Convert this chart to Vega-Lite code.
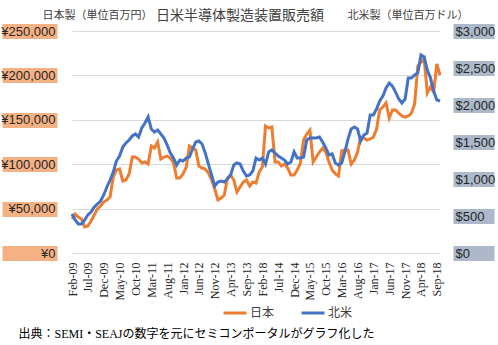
{
  "$schema": "https://vega.github.io/schema/vega-lite/v6.json",
  "width": 368,
  "height": 222,
  "autosize": {"type": "none"},
  "padding": {"left": 72, "top": 31, "right": 58, "bottom": 92},
  "background": "white",
  "config": {"view": {"stroke": null}, "font": "Liberation Serif, Noto Sans CJK JP"},
  "title": {"text": "日米半導体製造装置販売額", "font": "Noto Sans CJK JP", "fontSize": 14, "fontWeight": "normal", "color": "#404040", "anchor": "middle", "dx": -16, "dy": 20, "offset": 6},
  "data": {"values": [
    {"m":"Feb-09","日本":38300,"北米":527},{"m":"Mar-09","日本":43900,"北米":446},{"m":"Apr-09","日本":40500,"北米":392},{"m":"May-09","日本":38300,"北米":392},{"m":"Jun-09","日本":29300,"北米":446},
    {"m":"Jul-09","日本":30400,"北米":513},{"m":"Aug-09","日本":36000,"北米":554},{"m":"Sep-09","日本":42800,"北米":621},{"m":"Oct-09","日本":49500,"北米":662},{"m":"Nov-09","日本":52900,"北米":703},
    {"m":"Dec-09","日本":57400,"北米":784},{"m":"Jan-10","日本":59700,"北米":892},{"m":"Feb-10","日本":63100,"北米":986},{"m":"Mar-10","日本":85600,"北米":1094},{"m":"Apr-10","日本":93500,"北米":1243},
    {"m":"May-10","日本":94600,"北米":1310},{"m":"Jun-10","日本":81100,"北米":1432},{"m":"Jul-10","日本":82200,"北米":1486},{"m":"Aug-10","日本":89000,"北米":1527},{"m":"Sep-10","日本":108100,"北米":1581},
    {"m":"Oct-10","日本":108100,"北米":1608},{"m":"Nov-10","日本":105800,"北米":1567},{"m":"Dec-10","日本":101300,"北米":1689},{"m":"Jan-11","日本":102500,"北米":1756},{"m":"Feb-11","日本":100200,"北米":1840},
    {"m":"Mar-11","日本":120500,"北米":1675},{"m":"Apr-11","日本":118200,"北米":1635},{"m":"May-11","日本":125000,"北米":1662},{"m":"Jun-11","日本":105800,"北米":1608},{"m":"Jul-11","日本":108100,"北米":1554},
    {"m":"Aug-11","日本":109200,"北米":1459},{"m":"Sep-11","日本":107000,"北米":1351},{"m":"Oct-11","日本":101300,"北米":1283},{"m":"Nov-11","日本":84500,"北米":1189},{"m":"Dec-11","日本":84500,"北米":1256},
    {"m":"Jan-12","日本":89000,"北米":1243},{"m":"Feb-12","日本":96800,"北米":1283},{"m":"Mar-12","日本":120500,"北米":1297},{"m":"Apr-12","日本":118200,"北米":1405},{"m":"May-12","日本":116000,"北米":1500},
    {"m":"Jun-12","日本":98000,"北米":1513},{"m":"Jul-12","日本":95700,"北米":1473},{"m":"Aug-12","日本":94600,"北米":1351},{"m":"Sep-12","日本":90100,"北米":1202},{"m":"Oct-12","日本":82200,"北米":1054},
    {"m":"Nov-12","日本":72100,"北米":905},{"m":"Dec-12","日本":59700,"北米":959},{"m":"Jan-13","日本":61900,"北米":973},{"m":"Feb-13","日本":65300,"北米":959},{"m":"Mar-13","日本":84500,"北米":1000},
    {"m":"Apr-13","日本":87800,"北米":1054},{"m":"May-13","日本":82200,"北米":1189},{"m":"Jun-13","日本":68700,"北米":1216},{"m":"Jul-13","日本":74300,"北米":1202},{"m":"Aug-13","日本":79900,"北米":1108},
    {"m":"Sep-13","日本":82200,"北米":1040},{"m":"Oct-13","日本":75400,"北米":1054},{"m":"Nov-13","日本":79900,"北米":1108},{"m":"Dec-13","日本":78800,"北米":1283},{"m":"Jan-14","日本":91200,"北米":1256},
    {"m":"Feb-14","日本":96800,"北米":1283},{"m":"Mar-14","日本":143000,"北米":1202},{"m":"Apr-14","日本":140800,"北米":1365},{"m":"May-14","日本":141900,"北米":1392},{"m":"Jun-14","日本":102500,"北米":1351},
    {"m":"Jul-14","日本":102500,"北米":1310},{"m":"Aug-14","日本":98000,"北米":1283},{"m":"Sep-14","日本":100200,"北米":1256},{"m":"Oct-14","日本":95700,"北米":1202},{"m":"Nov-14","日本":87800,"北米":1229},
    {"m":"Dec-14","日本":87800,"北米":1365},{"m":"Jan-15","日本":93500,"北米":1283},{"m":"Feb-15","日本":101300,"北米":1283},{"m":"Mar-15","日本":127200,"北米":1297},{"m":"Apr-15","日本":134000,"北米":1527},
    {"m":"May-15","日本":138500,"北米":1554},{"m":"Jun-15","日本":102500,"北米":1554},{"m":"Jul-15","日本":108100,"北米":1554},{"m":"Aug-15","日本":113700,"北米":1567},{"m":"Sep-15","日本":118200,"北米":1500},
    {"m":"Oct-15","日本":113700,"北米":1419},{"m":"Nov-15","日本":102500,"北米":1324},{"m":"Dec-15","日本":93500,"北米":1338},{"m":"Jan-16","日本":89000,"北米":1216},{"m":"Feb-16","日本":86700,"北米":1189},
    {"m":"Mar-16","日本":114900,"北米":1216},{"m":"Apr-16","日本":116000,"北米":1365},{"m":"May-16","日本":116000,"北米":1540},{"m":"Jun-16","日本":100200,"北米":1675},{"m":"Jul-16","日本":104700,"北米":1702},
    {"m":"Aug-16","日本":113700,"北米":1675},{"m":"Sep-16","日本":130600,"北米":1513},{"m":"Oct-16","日本":129500,"北米":1594},{"m":"Nov-16","日本":127200,"北米":1621},{"m":"Dec-16","日本":128400,"北米":1864},
    {"m":"Jan-17","日本":130600,"北米":1864},{"m":"Feb-17","日本":139600,"北米":1945},{"m":"Mar-17","日本":161000,"北米":2054},{"m":"Apr-17","日本":164400,"北米":2121},{"m":"May-17","日本":168900,"北米":2229},
    {"m":"Jun-17","日本":152000,"北米":2297},{"m":"Jul-17","日本":161000,"北米":2256},{"m":"Aug-17","日本":161000,"北米":2175},{"m":"Sep-17","日本":157600,"北米":2081},{"m":"Oct-17","日本":154300,"北米":2027},
    {"m":"Nov-17","日本":153100,"北米":2081},{"m":"Dec-17","日本":154300,"北米":2364},{"m":"Jan-18","日本":157600,"北米":2364},{"m":"Feb-18","日本":167800,"北米":2405},{"m":"Mar-18","日本":210600,"北米":2432},
    {"m":"Apr-18","日本":215100,"北米":2675},{"m":"May-18","日本":219000,"北米":2648},{"m":"Jun-18","日本":180200,"北米":2472},{"m":"Jul-18","日本":186900,"北米":2364},{"m":"Aug-18","日本":181300,"北米":2189},
    {"m":"Sep-18","日本":212800,"北米":2067},{"m":"Oct-18","日本":200400,"北米":2054}
  ]},
  "layer": [
    {
      "transform": [{"fold": ["日本"], "as": ["s", "v"]}],
      "mark": {"type": "line", "strokeWidth": 3},
      "encoding": {
        "x": {"field": "m", "type": "ordinal", "sort": null, "scale": {"type": "point", "padding": 0},
          "axis": {"values": ["Feb-09","Jul-09","Dec-09","May-10","Oct-10","Mar-11","Aug-11","Jan-12","Jun-12","Nov-12","Apr-13","Sep-13","Feb-14","Jul-14","Dec-14","May-15","Oct-15","Mar-16","Aug-16","Jan-17","Jun-17","Nov-17","Apr-18","Sep-18"],
            "labelExpr": "datum.value == 'Feb-14' ? 'Feb-18' : datum.label",
            "labelAngle": -90, "labelFont": "Liberation Serif", "labelFontSize": 12, "labelColor": "#262626",
            "domain": false, "ticks": false, "grid": false, "labelPadding": 9,
            "title": "出典：SEMI・SEAJの数字を元にセミコンポータルがグラフ化した",
            "titleFont": "Liberation Serif, Noto Sans CJK JP", "titleFontSize": 12, "titleFontWeight": "normal",
            "titleAnchor": "start", "titleAlign": "left", "titleBaseline": "middle", "titleX": -54, "titleY": 80, "titleColor": "#000000"}},
        "y": {"field": "v", "type": "quantitative", "scale": {"domain": [0, 250000]},
          "axis": {"values": [0, 50000, 100000, 150000, 200000, 250000],
            "labelExpr": "'¥' + format(datum.value, ',')",
            "offset": 15, "tickSize": 55, "tickWidth": 15, "tickColor": "#F4B183", "tickCap": "butt",
            "domain": false, "grid": true, "gridColor": "#D9D9D9", "gridWidth": 1,
            "labelPadding": -53, "labelFont": "Liberation Sans", "labelFontSize": 13, "labelColor": "#262626",
            "title": "日本製（単位百万円）", "titleAngle": 0, "titleFont": "Noto Sans CJK JP", "titleFontSize": 11, "titleFontWeight": "normal",
            "titleAlign": "left", "titleBaseline": "middle", "titleX": -15, "titleY": -16, "titleColor": "#404040"}},
        "color": {"field": "s", "type": "nominal", "scale": {"domain": ["日本", "北米"], "range": ["#ED7D31", "#4472C4"]},
          "legend": {"orient": "none", "legendX": 150, "legendY": 269, "direction": "horizontal", "title": null,
            "symbolType": "stroke", "symbolSize": 529, "symbolStrokeWidth": 3,
            "labelFont": "Noto Sans CJK JP", "labelFontSize": 12, "labelColor": "#404040", "labelOffset": 2, "columnPadding": 20}}
      }
    },
    {
      "transform": [{"fold": ["北米"], "as": ["s", "v"]}],
      "mark": {"type": "line", "strokeWidth": 3},
      "encoding": {
        "x": {"field": "m", "type": "ordinal", "sort": null},
        "y": {"field": "v", "type": "quantitative", "scale": {"domain": [0, 3000]},
          "axis": {"orient": "right", "values": [0, 500, 1000, 1500, 2000, 2500, 3000],
            "labelExpr": "'$' + format(datum.value, ',')",
            "offset": 13, "tickSize": 41, "tickWidth": 15, "tickColor": "#ADB9CA", "tickCap": "butt",
            "domain": false, "grid": false,
            "labelPadding": -39, "labelFont": "Liberation Sans", "labelFontSize": 13, "labelColor": "#262626",
            "title": "北米製（単位百万ドル）", "titleAngle": 0, "titleFont": "Noto Sans CJK JP", "titleFontSize": 11, "titleFontWeight": "normal",
            "titleAlign": "left", "titleBaseline": "middle", "titleX": -106, "titleY": -16, "titleColor": "#404040"}},
        "color": {"field": "s", "type": "nominal"}
      }
    }
  ],
  "resolve": {"scale": {"y": "independent"}}
}
